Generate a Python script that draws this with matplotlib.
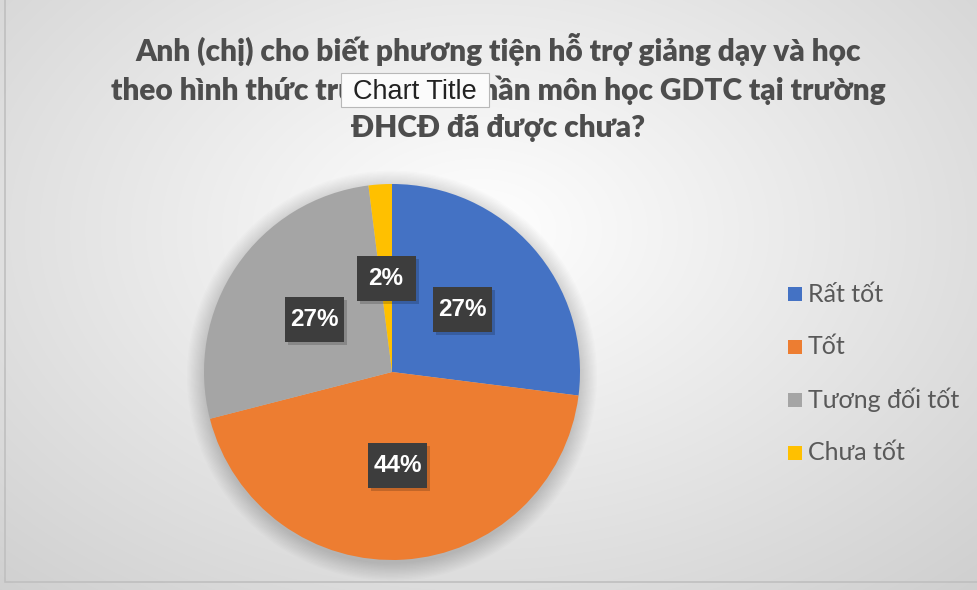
import numpy as np
import matplotlib.pyplot as plt
from matplotlib.patches import Rectangle, Circle

# data
labels = ['Rất tốt', 'Tốt', 'Tương đối tốt', 'Chưa tốt']
values = [27, 44, 27, 2]
colors = ['#4472C4', '#ED7D31', '#A5A5A5', '#FFC000']
title = ('Anh (chị) cho biết phương tiện hỗ trợ giảng dạy và học\n'
         'theo hình thức trực tuyến phần môn học GDTC tại trường\n'
         'ĐHCĐ đã được chưa?')

W, H = 978, 590
fig = plt.figure(figsize=(W / 100, H / 100), dpi=100)

# background radial gradient
bg = fig.add_axes([0, 0, 1, 1], zorder=0)
yy, xx = np.mgrid[0:H, 0:W]
d = np.sqrt(((xx - 480) / 620.0) ** 2 + ((yy - 230) / 420.0) ** 2)
shade = 1.0 - 0.16 * np.clip(d, 0, 1.2)
rgb = np.dstack([shade, shade, shade])
bg.imshow(rgb, extent=[0, W, H, 0], aspect='auto', interpolation='bilinear')
bg.add_patch(Rectangle((5, -5), W, H - 3, fill=False, ec='#bfbfbf', lw=1.2))
bg.set_xlim(0, W)
bg.set_ylim(H, 0)
bg.axis('off')

# pie
cx, cy, r = 392, 372, 188
ax = fig.add_axes([(cx - r) / W, (H - cy - r) / H, 2 * r / W, 2 * r / H], zorder=1)
ax.patch.set_alpha(0)
for k in range(14):
    ax.add_patch(Circle((0.0, -0.02), 1.0 + 0.007 * k, color='black',
                        alpha=0.012, lw=0, zorder=0, clip_on=False))
wedges, texts, autotexts = ax.pie(
    values, colors=colors, startangle=90, counterclock=False,
    autopct='%1.0f%%', pctdistance=0.5,
    wedgeprops=dict(lw=0),
    textprops=dict(color='white', fontsize=17.5, fontweight='bold',
                   family='Liberation Sans'))
ax.set_xlim(-1.0, 1.0)
ax.set_ylim(-1.0, 1.0)
ax.set_aspect('auto')
ax.axis('off')

# dark label boxes (pixel sized)
bw, bh = 59, 45
for t in autotexts:
    t.set_zorder(6)
    px, py = ax.transData.transform(t.get_position())
    ax.add_patch(Rectangle((px - bw / 2 + 3, py - bh / 2 - 3), bw, bh,
                           transform=None, fc='black', alpha=0.18, lw=0, zorder=4))
    ax.add_patch(Rectangle((px - bw / 2, py - bh / 2), bw, bh,
                           transform=None, fc='#3d3d3d', lw=0, zorder=5))

# title
fig.text(498 / W, 1 - 33 / H, title, ha='center', va='top', fontsize=21.5,
         fontweight='heavy', color='#4d4d4d', family=['Lato', 'DejaVu Sans'],
         linespacing=1.38)

# tooltip
fig.patches.append(Rectangle((341 / W, 1 - 107 / H), 148 / W, 34 / H,
                             transform=fig.transFigure, fc='#fbfbfb',
                             ec='#b8b8b8', lw=0.8, zorder=9))
fig.text(415 / W, 1 - 92 / H, 'Chart Title', ha='center', va='center',
         fontsize=19.5, color='#222222', family='Liberation Sans', zorder=10)

# legend
for i, (lab, c) in enumerate(zip(labels, colors)):
    y = 294 + i * 53
    fig.patches.append(Rectangle((788 / W, 1 - (y + 7) / H), 14 / W, 14 / H,
                                 transform=fig.transFigure, fc=c, ec='none'))
    fig.text(808 / W, 1 - y / H, lab, ha='left', va='center', fontsize=18,
             color='#595959', family=['Lato', 'DejaVu Sans'])

fig.savefig('out.png', dpi=100)
